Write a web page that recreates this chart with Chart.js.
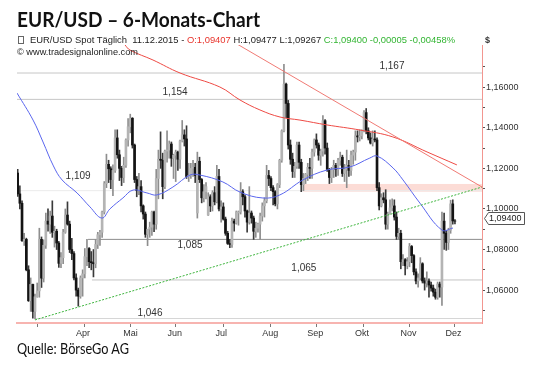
<!DOCTYPE html>
<html><head><meta charset="utf-8">
<script src="https://cdn.jsdelivr.net/npm/chart.js@4.4.1/dist/chart.umd.min.js"></script>
<style>
html,body{margin:0;padding:0;background:#fff;}
#wrap{position:relative;width:533px;height:365px;overflow:hidden;background:#fff;}
canvas{position:absolute;left:0;top:0;}
.t{position:absolute;white-space:nowrap;transform-origin:0 0;}
</style></head><body>
<div id="wrap">
<canvas id="c" width="533" height="365"></canvas>
<div class="t" id="title" style="left:17px;top:9px;font:bold 20px Lato,'Open Sans',sans-serif;line-height:20px;color:#111;">EUR/USD – 6-Monats-Chart</div>
<div class="t" style="left:18px;top:36px;width:4px;height:6px;border:1px solid #666;"></div>
<div class="t" id="sub" style="left:30px;top:35px;font:9px 'Liberation Sans',Arial,sans-serif;line-height:11px;color:#222;">EUR/USD Spot Täglich&nbsp;&nbsp;11.12.2015 - <span style="color:#e8342c">O:1,09407</span> H:1,09477 L:1,09267 <span style="color:#33b533">C:1,09400 -0,00005 -0,00458%</span></div>
<div class="t" id="copy" style="left:17px;top:47px;font:9px 'Liberation Sans',Arial,sans-serif;line-height:11px;color:#222;">© www.tradesignalonline.com</div>
<div class="t" style="left:485px;top:35px;font:bold 9px 'Liberation Sans',Arial,sans-serif;line-height:11px;color:#333;">$</div>
<div class="t" id="src" style="left:17px;top:339px;font:16px Lato,'Open Sans',sans-serif;line-height:18px;color:#111;">Quelle: BörseGo AG</div>
</div>
<script>
// ---- data (EUR/USD daily, 04.03.2015 - 11.12.2015) ----
const opens = [
1.1177,1.1074,1.1028,1.0844,1.0850,1.0700,1.0548,1.0628,1.0495,1.0567,
1.0596,1.0850,1.0659,1.0821,1.0940,1.0925,1.0965,1.0885,1.0890,1.0832,
1.0732,1.0760,1.0885,1.0970,1.0925,1.0800,1.0780,1.0660,1.0600,1.0570,
1.0660,1.0680,1.0765,1.0805,1.0740,1.0735,1.0730,1.0825,1.0873,1.0885,
1.0985,1.1125,1.1220,1.1198,1.1145,1.1190,1.1350,1.1267,1.1200,1.1155,
1.1215,1.1340,1.1405,1.1447,1.1315,1.1145,1.1090,1.1110,1.1015,1.0975,
1.0875,1.0900,1.0910,1.0985,1.0925,1.1150,1.1245,1.1240,1.1110,1.1285,
1.1290,1.1320,1.1250,1.1265,1.1280,1.1245,1.1335,1.1365,1.1345,1.1160,
1.1165,1.1200,1.1205,1.0980,1.1235,1.1145,1.1055,1.1085,1.0970,1.1060,
1.1015,1.1080,1.1035,1.1160,1.1000,1.1010,1.0950,1.0880,1.0830,1.0825,
1.0940,1.0930,1.0980,1.0985,1.1085,1.1060,1.0990,1.0935,1.0980,1.0955,
1.0890,1.0905,1.0925,1.0965,1.1015,1.1040,1.1165,1.1150,1.1105,1.1085,
1.1025,1.1120,1.1240,1.1385,1.1615,1.1520,1.1315,1.1245,1.1185,1.1210,
1.1315,1.1230,1.1120,1.1150,1.1170,1.1205,1.1200,1.1280,1.1340,1.1315,
1.1265,1.1285,1.1435,1.1300,1.1195,1.1155,1.1195,1.1215,1.1195,1.1240,
1.1255,1.1175,1.1195,1.1215,1.1190,1.1265,1.1280,1.1360,1.1355,1.1360,
1.1385,1.1475,1.1385,1.1350,1.1325,1.1345,1.1340,1.1105,1.1015,1.1055,
1.1045,1.0925,1.0975,1.1005,1.1015,1.0960,1.0865,1.0880,1.0740,1.0750,
1.0720,1.0740,1.0815,1.0770,1.0690,1.0645,1.0660,1.0730,1.0645,1.0635,
1.0645,1.0625,1.0610,1.0590,1.0565,1.0630,1.0615,1.0940,1.0880,1.0835,
1.0895,1.1025,1.09407];
const highs = [
1.1195,1.1114,1.1040,1.0880,1.0856,1.0720,1.0660,1.0630,1.0580,1.0635,
1.0905,1.0862,1.0848,1.0980,1.1000,1.0990,1.1040,1.0915,1.0900,1.0840,
1.0785,1.0900,1.1000,1.1035,1.0940,1.0855,1.0790,1.0680,1.0610,1.0670,
1.0700,1.0805,1.0850,1.0810,1.0790,1.0800,1.0850,1.0885,1.0895,1.0990,
1.1135,1.1270,1.1240,1.1208,1.1218,1.1390,1.1390,1.1290,1.1210,1.1255,
1.1345,1.1445,1.1467,1.1450,1.1320,1.1160,1.1175,1.1140,1.1020,1.0985,
1.0900,1.0935,1.0990,1.0990,1.1195,1.1290,1.1380,1.1275,1.1290,1.1385,
1.1335,1.1330,1.1270,1.1290,1.1285,1.1340,1.1436,1.1390,1.1410,1.1225,
1.1225,1.1240,1.1225,1.1280,1.1255,1.1150,1.1120,1.1130,1.1080,1.1070,
1.1090,1.1110,1.1215,1.1195,1.1040,1.1030,1.0960,1.0890,1.0850,1.0955,
1.0950,1.0990,1.0990,1.1130,1.1095,1.1070,1.0995,1.1110,1.0990,1.0965,
1.0935,1.0930,1.0980,1.1030,1.1055,1.1215,1.1190,1.1160,1.1115,1.1090,
1.1125,1.1245,1.1390,1.1713,1.1620,1.1535,1.1340,1.1275,1.1230,1.1330,
1.1330,1.1245,1.1175,1.1175,1.1225,1.1250,1.1295,1.1345,1.1370,1.1325,
1.1295,1.1460,1.1440,1.1325,1.1200,1.1205,1.1240,1.1225,1.1250,1.1280,
1.1265,1.1220,1.1290,1.1240,1.1285,1.1290,1.1385,1.1385,1.1390,1.1390,
1.1485,1.1495,1.1400,1.1375,1.1385,1.1385,1.1350,1.1130,1.1075,1.1080,
1.1095,1.0985,1.1045,1.1050,1.1045,1.0985,1.0905,1.0895,1.0775,1.0755,
1.0760,1.0830,1.0820,1.0775,1.0705,1.0680,1.0760,1.0735,1.0660,1.0690,
1.0655,1.0640,1.0625,1.0605,1.0640,1.0640,1.0985,1.0980,1.0895,1.0905,
1.1043,1.1045,1.09477];
const lows = [
1.1062,1.1000,1.0840,1.0820,1.0695,1.0544,1.0495,1.0462,1.0458,1.0565,
1.0565,1.0613,1.0640,1.0805,1.0890,1.0880,1.0860,1.0812,1.0800,1.0712,
1.0710,1.0730,1.0880,1.0920,1.0785,1.0750,1.0650,1.0570,1.0521,1.0560,
1.0570,1.0660,1.0720,1.0710,1.0700,1.0665,1.0710,1.0805,1.0820,1.0860,
1.0975,1.1105,1.1130,1.1100,1.1065,1.1180,1.1250,1.1140,1.1115,1.1130,
1.1205,1.1310,1.1375,1.1300,1.1130,1.1060,1.1070,1.0985,1.0950,1.0860,
1.0819,1.0860,1.0870,1.0888,1.0900,1.1050,1.1200,1.1050,1.1100,1.1230,
1.1250,1.1210,1.1150,1.1135,1.1190,1.1200,1.1330,1.1310,1.1150,1.1135,
1.1150,1.1160,1.1130,1.0955,1.1130,1.1030,1.1035,1.1050,1.0968,1.0987,
1.0990,1.1020,1.1030,1.0990,1.0935,1.0945,1.0870,1.0825,1.0809,1.0810,
1.0890,1.0925,1.0920,1.0975,1.1020,1.0960,1.0885,1.0925,1.0930,1.0850,
1.0860,1.0885,1.0850,1.0940,1.0960,1.1030,1.1115,1.1090,1.1020,1.1015,
1.1000,1.1105,1.1230,1.1380,1.1450,1.1295,1.1220,1.1155,1.1155,1.1200,
1.1200,1.1085,1.1090,1.1125,1.1140,1.1150,1.1150,1.1260,1.1300,1.1240,
1.1215,1.1260,1.1270,1.1185,1.1125,1.1130,1.1155,1.1160,1.1165,1.1215,
1.1160,1.1135,1.1105,1.1160,1.1165,1.1220,1.1240,1.1330,1.1335,1.1345,
1.1380,1.1370,1.1340,1.1320,1.1310,1.1330,1.1090,1.0995,1.1010,1.1030,
1.0900,1.0900,1.0975,1.0990,1.0945,1.0850,1.0850,1.0705,1.0720,1.0675,
1.0705,1.0715,1.0735,1.0675,1.0630,1.0615,1.0650,1.0635,1.0600,1.0615,
1.0565,1.0595,1.0570,1.0555,1.0555,1.0565,1.0524,1.0800,1.0796,1.0800,
1.0880,1.0925,1.09267];
const closes = [
1.1074,1.1028,1.0844,1.0850,1.0700,1.0548,1.0628,1.0495,1.0567,1.0596,
1.0850,1.0659,1.0821,1.0940,1.0925,1.0965,1.0885,1.0890,1.0832,1.0732,
1.0760,1.0885,1.0970,1.0925,1.0800,1.0780,1.0660,1.0600,1.0570,1.0660,
1.0680,1.0765,1.0805,1.0740,1.0735,1.0730,1.0825,1.0873,1.0885,1.0985,
1.1125,1.1220,1.1198,1.1145,1.1190,1.1350,1.1267,1.1200,1.1155,1.1215,
1.1340,1.1405,1.1447,1.1315,1.1145,1.1090,1.1110,1.1015,1.0975,1.0875,
1.0900,1.0910,1.0985,1.0925,1.1150,1.1245,1.1240,1.1110,1.1285,1.1290,
1.1320,1.1250,1.1265,1.1280,1.1245,1.1335,1.1365,1.1345,1.1160,1.1165,
1.1200,1.1205,1.1165,1.1235,1.1145,1.1055,1.1085,1.1110,1.1060,1.1015,
1.1080,1.1035,1.1160,1.1000,1.1010,1.0950,1.0880,1.0830,1.0825,1.0940,
1.0930,1.0985,1.0985,1.1085,1.1060,1.0990,1.0935,1.0980,1.0955,1.0890,
1.0905,1.0925,1.0965,1.1015,1.1040,1.1165,1.1150,1.1105,1.1085,1.1025,
1.1120,1.1240,1.1385,1.1615,1.1520,1.1315,1.1245,1.1185,1.1210,1.1315,
1.1230,1.1120,1.1150,1.1170,1.1205,1.1200,1.1280,1.1340,1.1315,1.1265,
1.1285,1.1435,1.1300,1.1195,1.1155,1.1195,1.1215,1.1195,1.1240,1.1255,
1.1175,1.1195,1.1215,1.1190,1.1265,1.1280,1.1360,1.1355,1.1360,1.1385,
1.1475,1.1385,1.1350,1.1325,1.1345,1.1340,1.1105,1.1015,1.1055,1.1045,
1.0925,1.0975,1.1005,1.1015,1.0960,1.0865,1.0880,1.0740,1.0750,1.0720,
1.0740,1.0815,1.0770,1.0690,1.0645,1.0660,1.0730,1.0645,1.0635,1.0645,
1.0625,1.0610,1.0590,1.0565,1.0630,1.0615,1.0940,1.0880,1.0835,1.0895,
1.1025,1.0941,1.09400];

// moving averages: [bar index, value]
const maRed = [[48,1.1830],[49.6,1.1808],[51.9,1.1783],[62.5,1.1734],[75,1.1670],[93.4,1.1601],[102.7,1.1537],[111.9,1.1488],[121.2,1.1453],[130.4,1.1438],[142.9,1.1414],[158.1,1.1389],[173.3,1.1355],[189.1,1.1281],[202.9,1.1217]];
const maBlue = [[-0.3,1.1571],[7.1,1.1438],[11.7,1.1330],[16.5,1.1212],[20.5,1.1143],[27.4,1.1079],[33.4,1.1010],[38.9,1.0955],[42.6,1.1000],[48.6,1.1054],[53.3,1.1093],[59.7,1.1079],[64.3,1.1069],[71.7,1.1108],[79.6,1.1167],[84.2,1.1167],[94.8,1.1133],[102.7,1.1083],[113.3,1.1054],[121.1,1.1069],[131.8,1.1143],[142.9,1.1192],[153.5,1.1207],[162.7,1.1251],[166,1.1261],[173.4,1.1202],[178,1.1143],[185.8,1.1029],[196,1.0896],[201.1,1.0906]];
const trendRed = [[98.1,1.1833],[214.5,1.1108]];
const trendGreen = [[8,1.0453],[214.5,1.1108]];
const levels = [1.167,1.154,1.109,1.085,1.065,1.046];
const levelFrom = [-1,-1,-1,32.5,34.3,8];
const zoneFrom = 131.8, zoneLow = 1.1085, zoneHigh = 1.1123;
const monthLabels = ['Apr','Mai','Jun','Jul','Aug','Sep','Okt','Nov','Dez'];
const monthTicks = [20.0,42.0,62.35,83.9,106.5,127.3,148.9,170.4,191.2];
const yTicks = [1.05,1.06,1.07,1.08,1.09,1.10,1.11,1.12,1.13,1.14,1.15,1.16,1.17];
const X_MIN = -0.32, X_MAX = 214.5, Y_MIN = 1.04379, Y_MAX = 1.1808;

// ---- styles ----
const up = closes.map((c,i)=>c>=opens[i]);
const levelColors = ['#c6c6c6','#c6c6c6','#ebebeb','#8c8c8c','#c4c4c4','#d6d6d6'];
const labelCfg = [
  {x:172.9, dy:-7},{x:72.7, dy:-7},{x:27.9, dy:-14},{x:79.6, dy:6},{x:132.2, dy:-12},{x:61.1, dy:-5}
];
const FONT = "'Liberation Sans', Arial, sans-serif";

const datasets = [];
levels.forEach((v,k)=>{
  datasets.push({type:'line', data:[{x:levelFrom[k],y:v},{x:X_MAX+1,y:v}], borderColor:levelColors[k], borderWidth:1, pointRadius:0, order:20});
});
datasets.push({type:'bar', data:highs.map((h,i)=>({x:i,y:[lows[i],h]})), backgroundColor:up.map(u=>u?'#8e8e8e':'#3a3a3a'), barThickness:1, grouped:false, order:10});
datasets.push({type:'bar', data:opens.map((o,i)=>({x:i,y:[o,closes[i]]})), backgroundColor:up.map(u=>u?'#b4b4b4':'#141414'), barThickness:2, grouped:false, order:9});
datasets.push({type:'line', data:maBlue.map(p=>({x:p[0],y:p[1]})), borderColor:'#5a66ee', borderWidth:1, pointRadius:0, tension:0.4, order:3});
datasets.push({type:'line', data:maRed.map(p=>({x:p[0],y:p[1]})), borderColor:'#ee4a44', borderWidth:1, pointRadius:0, tension:0.4, order:2});
datasets.push({type:'line', data:trendRed.map(p=>({x:p[0],y:p[1]})), borderColor:'#f07a74', borderWidth:1, pointRadius:0, order:1});
datasets.push({type:'line', data:trendGreen.map(p=>({x:p[0],y:p[1]})), borderColor:'#3cb43c', borderWidth:1, borderDash:[2,1.5], pointRadius:0, order:1});

const zonePlugin = {
  id:'zone',
  beforeDatasetsDraw(chart){
    const {ctx, scales:{x,y}, chartArea:a} = chart;
    const x0 = x.getPixelForValue(zoneFrom), x1 = a.right;
    const y0 = y.getPixelForValue(zoneHigh), y1 = y.getPixelForValue(zoneLow);
    ctx.save(); ctx.fillStyle = 'rgba(250,196,186,0.6)'; ctx.fillRect(x0,y0,x1-x0,y1-y0); ctx.restore();
  },
  afterDraw(chart){
    const {ctx, scales:{x,y}} = chart;
    ctx.save();
    ctx.font = '10px '+FONT; ctx.fillStyle = '#333'; ctx.textAlign='center'; ctx.textBaseline='middle';
    levels.forEach((v,k)=>{
      ctx.fillText(v.toFixed(3).replace('.',','), x.getPixelForValue(labelCfg[k].x), y.getPixelForValue(v)+labelCfg[k].dy);
    });
    // last price tag
    const last = closes[closes.length-1];
    const py = Math.round(y.getPixelForValue(last)) - 2.5;
    ctx.strokeStyle = '#555'; ctx.lineWidth = 1; ctx.fillStyle='#fff';
    ctx.beginPath();
    ctx.moveTo(488.5, py-6); ctx.lineTo(524.5, py-6); ctx.lineTo(524.5, py+6); ctx.lineTo(488.5, py+6); ctx.lineTo(484.5, py); ctx.closePath();
    ctx.fill(); ctx.stroke();
    ctx.font = '9px '+FONT; ctx.fillStyle = '#222'; ctx.textAlign='left';
    ctx.fillText(last.toFixed(5).replace('.',','), 489, py+0.5);
    ctx.restore();
  }
};

new Chart(document.getElementById('c'), {
  type:'bar',
  data:{datasets},
  options:{
    responsive:false, animation:false, devicePixelRatio:1,
    layout:{padding:{left:17, top:45, right:0, bottom:0}},
    plugins:{legend:{display:false}, tooltip:{enabled:false}},
    scales:{
      x:{type:'linear', min:X_MIN, max:X_MAX, offset:false,
        afterBuildTicks:s=>{ s.ticks = monthTicks.map(v=>({value:v})); },
        afterFit:s=>{ s.height = 42; },
        ticks:{ callback:(v,i)=>monthLabels[i], labelOffset:22, padding:1, maxRotation:0, autoSkip:false, color:'#333', font:{size:9, family:FONT} },
        grid:{drawOnChartArea:false, drawTicks:true, tickLength:4, tickColor:'#777'},
        border:{display:true, color:'#f7b4b0', width:2}
      },
      y:{type:'linear', position:'right', min:Y_MIN, max:Y_MAX,
        afterBuildTicks:s=>{ s.ticks = yTicks.map(v=>({value:v})); },
        afterFit:s=>{ s.width = 51; },
        ticks:{ callback:v=>(Math.round(v*100)%2===0 ? v.toFixed(5).replace('.',',') : ''), padding:1, autoSkip:false, color:'#333', font:{size:9, family:FONT} },
        grid:{drawOnChartArea:false, drawTicks:true, tickLength:3, tickColor:'#555'},
        border:{display:true, color:'#f29690', width:1}
      }
    }
  },
  plugins:[zonePlugin]
});

function fit(id, w){ const el=document.getElementById(id); const r=el.getBoundingClientRect().width; if(r>0) el.style.transform='scaleX('+(w/r)+')'; }
fit('title',243); fit('sub',425); fit('copy',121); fit('src',112);
</script>
</body></html>
